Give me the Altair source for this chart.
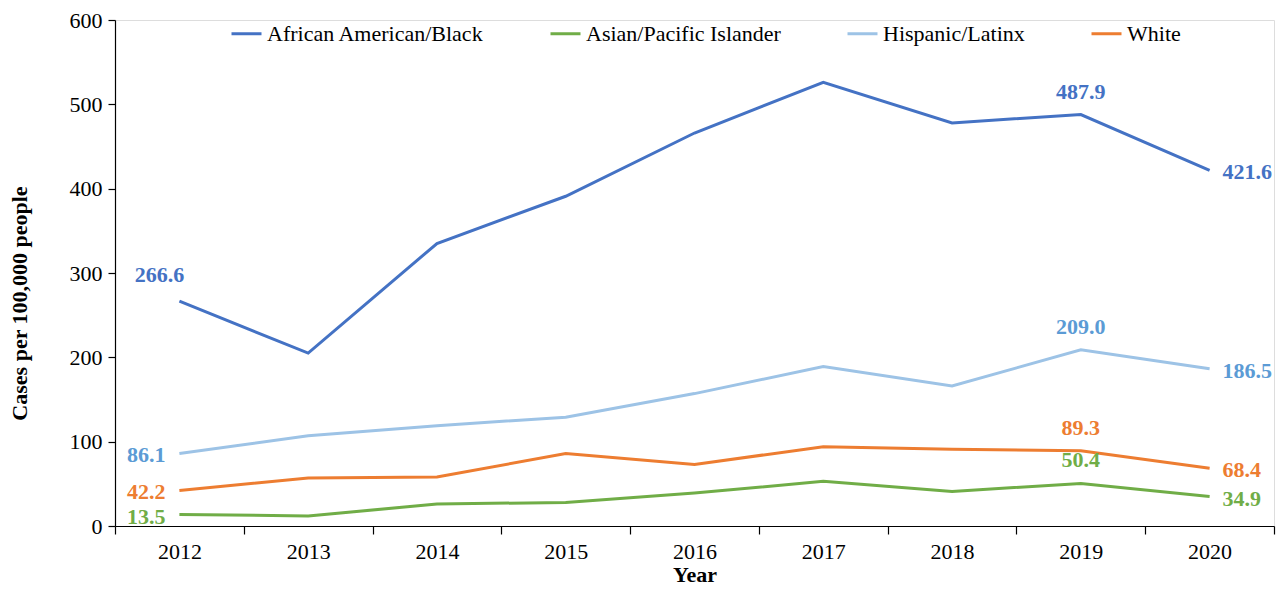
import altair as alt
import pandas as pd

years = ["2012", "2013", "2014", "2015", "2016", "2017", "2018", "2019", "2020"]
series = ["African American/Black", "Asian/Pacific Islander", "Hispanic/Latinx", "White"]
black = [266.6, 205, 335, 391, 466, 526, 478, 487.9, 421.6]
asian = [13.5, 12, 26, 28, 39, 53, 41, 50.4, 34.9]
hispanic = [86.1, 107, 119, 129, 157, 189, 166, 209.0, 186.5]
white = [42.2, 57, 58, 86, 73, 94, 91, 89.3, 68.4]

line_colors = ["#4472C4", "#70AD47", "#9DC3E6", "#ED7D31"]
label_colors = ["#4472C4", "#70AD47", "#5B9BD5", "#ED7D31"]

rows = []
for s, vals in zip(series, [black, asian, hispanic, white]):
    for y, v in zip(years, vals):
        rows.append({"Year": y, "Group": s, "Value": v, "Label": f"{v:.1f}"})
df = pd.DataFrame(rows)

FONT = "Liberation Serif"

x_enc = alt.X("Year:O", sort=years,
              scale=alt.Scale(paddingInner=0, paddingOuter=0),
              axis=alt.Axis(title="Year", labelAngle=0, tickBand="extent",
                            labelFont=FONT, labelFontSize=22, labelColor="#000",
                            titleFont=FONT, titleFontSize=22, titleFontWeight="bold",
                            titleColor="#000", domainColor="#000", tickColor="#000",
                            tickSize=8, labelPadding=7, titlePadding=2,
                            domainWidth=1.2, tickWidth=1.2))
y_enc = alt.Y("Value:Q", scale=alt.Scale(domain=[0, 600]),
              axis=alt.Axis(title="Cases per 100,000 people", values=[0, 100, 200, 300, 400, 500, 600],
                            grid=False, labelFont=FONT, labelFontSize=22, labelColor="#000",
                            titleFont=FONT, titleFontSize=22, titleFontWeight="bold",
                            titleColor="#000", domainColor="#000", tickColor="#000",
                            tickSize=7, labelPadding=6, titlePadding=38, titleY=283,
                            domainWidth=1.2, tickWidth=1.2))

color_enc = alt.Color("Group:N", sort=series,
                      scale=alt.Scale(domain=series, range=line_colors),
                      legend=alt.Legend(title=None, orient="none", legendX=115, legendY=-3,
                                        direction="horizontal", symbolType="stroke",
                                        symbolSize=900, symbolStrokeWidth=3,
                                        labelFont=FONT, labelFontSize=22, labelColor="#000",
                                        labelLimit=0, columnPadding=60, labelOffset=4))

lines = alt.Chart(df).mark_line(strokeWidth=3).encode(x=x_enc, y=y_enc, color=color_enc)

lab_color = alt.Color("Group:N", scale=alt.Scale(domain=series, range=label_colors), legend=None)
base = alt.Chart(df).encode(x=alt.X("Year:O", sort=years), y="Value:Q",
                             text="Label:N", color=lab_color)
tstyle = dict(font=FONT, fontSize=22, fontWeight="bold")

left = base.transform_filter(
    "datum.Year == '2012' && datum.Group != 'African American/Black'"
).mark_text(align="right", baseline="middle", dx=-14, dy=2, **tstyle)
above2012 = base.transform_filter(
    "datum.Year == '2012' && datum.Group == 'African American/Black'"
).mark_text(align="center", baseline="bottom", dx=-20, dy=-14, **tstyle)
above2019 = base.transform_filter("datum.Year == '2019'").mark_text(
    align="center", baseline="bottom", dy=-11, **tstyle)
right = base.transform_filter("datum.Year == '2020'").mark_text(
    align="left", baseline="middle", dx=13, dy=2, **tstyle)

chart = alt.layer(lines, left, above2012, above2019, right).resolve_scale(
    color="independent"
).properties(
    width=1159, height=506,
    autosize=alt.AutoSizeParams(type="none"),
    padding={"left": 107, "top": 12, "right": 2, "bottom": 60},
).configure_view(stroke=None).configure(background="white")

chart.save("out.html", embed_options={"renderer": "svg", "actions": False})
